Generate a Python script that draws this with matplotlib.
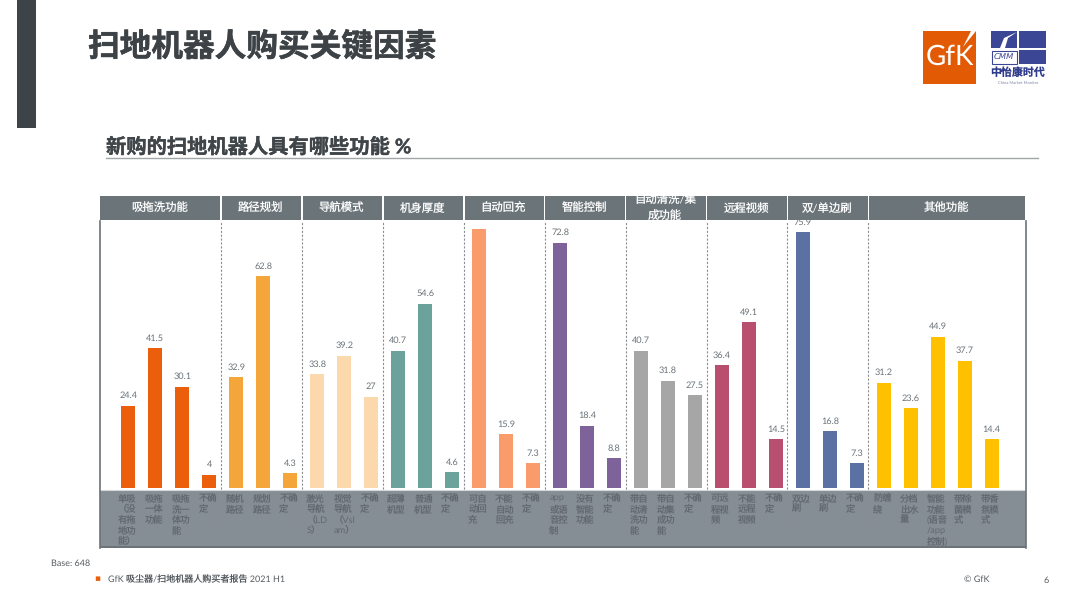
import matplotlib
matplotlib.use("Agg")
import matplotlib.pyplot as plt
import matplotlib.patheffects as pe
from matplotlib.patches import Rectangle, Polygon
from matplotlib.transforms import Bbox, blended_transform_factory

plt.rcParams['font.family'] = ['Lato', 'Noto Sans CJK SC', 'DejaVu Sans']
plt.rcParams['text.hinting'] = 'no_hinting'
CJK = ['Noto Sans CJK SC', 'DejaVu Sans']

# ---- data ----
group_names = ["吸拖洗功能", "路径规划", "导航模式", "机身厚度", "自动回充", "智能控制",
               "自动清洗/集\n成功能", "远程视频", "双/单边刷", "其他功能"]
group_colors = ["#EB5E0B", "#F4A63A", "#FBD9AC", "#6BA39C", "#F99B6B",
                "#7E639B", "#A6A6A6", "#B94F6E", "#5B70A3", "#FFC000"]
group_values = [
    [24.4, 41.5, 30.1, 4],
    [32.9, 62.8, 4.3],
    [33.8, 39.2, 27],
    [40.7, 54.6, 4.6],
    [76.9, 15.9, 7.3],
    [72.8, 18.4, 8.8],
    [40.7, 31.8, 27.5],
    [36.4, 49.1, 14.5],
    [75.9, 16.8, 7.3],
    [31.2, 23.6, 44.9, 37.7, 14.4],
]
group_labels = [
    ["单吸\n（没\n有拖\n地功\n能）", "吸拖\n一体\n功能", "吸拖\n洗一\n体功\n能", "不确\n定"],
    ["随机\n路径", "规划\n路径", "不确\n定"],
    ["激光\n导航\n（LD\nS）", "视觉\n导航\n（Vsl\nam）", "不确\n定"],
    ["超薄\n机型", "普通\n机型", "不确\n定"],
    ["可自\n动回\n充", "不能\n自动\n回充", "不确\n定"],
    ["app\n或语\n音控\n制", "没有\n智能\n功能", "不确\n定"],
    ["带自\n动清\n洗功\n能", "带自\n动集\n成功\n能", "不确\n定"],
    ["可远\n程视\n频", "不能\n远程\n视频", "不确\n定"],
    ["双边\n刷", "单边\n刷", "不确\n定"],
    ["防缠\n绕", "分档\n出水\n量", "智能\n功能\n(语音\n/app\n控制)", "带除\n菌模\n式", "带香\n氛模\n式"],
]
title = "扫地机器人购买关键因素"
subtitle = "新购的扫地机器人具有哪些功能 %"
unlabelled_values = [76.9]

W, H = 1080, 608
fig = plt.figure(figsize=(W / 100, H / 100), dpi=100, facecolor="white")

def px_axes(l, t, r, b, **kw):
    return fig.add_axes([l / W, 1 - b / H, (r - l) / W, (b - t) / H], **kw)

# ---- page furniture, in pixel coordinates ----
bg = fig.add_axes([0, 0, 1, 1], zorder=0)
bg.set_xlim(0, W); bg.set_ylim(H, 0); bg.axis("off")
bg.add_patch(Rectangle((17, 0), 19, 128, fc="#3D4347", ec="none"))
tt = bg.text(88, 47, title, fontsize=22.8, fontweight="bold", color="#3C4245", family=CJK, va="center")
tt.set_path_effects([pe.withStroke(linewidth=0.35, foreground="#3C4245")])
st = bg.text(106, 147, subtitle, fontsize=14.6, fontweight="bold", color="#3F4549", va="center")
st.set_path_effects([pe.withStroke(linewidth=0.25, foreground="#3F4549")])
bg.plot([106, 1038], [157.5, 157.5], color="#A3A6A8", lw=1)

bg.add_patch(Rectangle((923, 31), 53, 53, fc="#E35A05", ec="none"))
bg.text(949.5, 57, "GfK", fontsize=20, color="white", ha="center", va="center", fontweight="normal")
bg.add_patch(Polygon([[971, 31], [976, 31], [963, 47]], fc="white", ec="none"))

blue = "#3B4694"
bg.add_patch(Rectangle((991, 31), 26, 17, fc=blue, ec="none"))
bg.add_patch(Polygon([[1000, 48], [1004, 38], [1017, 32], [1008, 38], [1005, 48]], fc="white", ec="none"))
bg.add_patch(Rectangle((1019, 31), 27, 17, fc=blue, ec="none"))
bg.add_patch(Rectangle((991.5, 50.5), 25.5, 13, fc="white", ec=blue, lw=0.8))
bg.add_patch(Rectangle((1019, 50), 27, 14, fc=blue, ec="none"))
bg.text(1004, 58, "CMM", fontsize=6, color=blue, style="italic", ha="center", va="center", family="DejaVu Sans")
bg.text(1018, 73, "中怡康时代", fontsize=7.9, fontweight="bold", color="#2F3B8C", ha="center", va="center", family=CJK)
bg.text(1018, 82.5, "China Market Monitor", fontsize=3, color="#7F86A8", ha="center", va="center")

bg.text(51, 563, "Base: 648", fontsize=6.5, color="#555B60", va="center")
bg.text(97, 579, "▪", fontsize=6.5, color="#EB5E0B", ha="center", va="center", family="DejaVu Sans")
bg.text(108, 579, "GfK 吸尘器/扫地机器人购买者报告 2021 H1", fontsize=6.5, color="#555B60", va="center")
bg.text(964, 579, "© GfK", fontsize=6.5, color="#555B60", va="center")
bg.text(1046, 580, "6", fontsize=6.5, color="#555B60", ha="center", va="center")

# ---- chart ----
ax = px_axes(100, 221, 1026, 548, zorder=1)
ax.patch.set_alpha(0)
XMIN, XMAX = -1.05, 33.27
ax.set_xlim(XMIN, XMAX)
ax.set_ylim(-17.8, 79.2)
ax.set_xticks([]); ax.set_yticks([])
for s in ("top", "bottom"):
    ax.spines[s].set_visible(False)
for s in ("left", "right"):
    ax.spines[s].set_color("#6B7277"); ax.spines[s].set_linewidth(1.2)

ax.axhspan(-17.8, -0.8, color="#868E95", lw=0, zorder=0)
ax.axhline(-17.6, color="#676E74", lw=1.2, zorder=1)
ax.axhline(-0.7, color="#D5D8DA", lw=0.8, zorder=1)

trans = blended_transform_factory(ax.transData, ax.transAxes)
i = 0
edges = [XMIN]
for g, vals in enumerate(group_values):
    for j, v in enumerate(vals):
        ax.bar(i, v, width=0.53, color=group_colors[g], zorder=2)
        if v not in unlabelled_values:
            ax.text(i, v + 3.0, f"{v:g}", fontsize=6.6, color="#6A7278", ha="center", va="center",
                    zorder=3, clip_on=False)
        for k, line in enumerate(group_labels[g][j].split("\n")):
            ax.text(i - 0.40, -3.0 - 3.2 * k, line, fontsize=6.7, color="#62696F",
                    ha="left", va="center", zorder=3)
        i += 1
    edges.append(i - 0.57)
edges[-1] = XMAX

for e in edges[1:-1]:
    ax.plot([e, e], [-12, 79.2], color="#8A8F93", lw=0.8, ls=(0, (2, 1.5)), zorder=1.5)

fig.canvas.draw()
for g, name in enumerate(group_names):
    left, right = edges[g], edges[g + 1]
    x0 = ax.transData.transform((left, 0))[0] + (0 if g == 0 else 1)
    x1 = ax.transData.transform((right, 0))[0] - 1
    r = Rectangle((left + (0 if g == 0 else 0.03), 1.003), right - left - 0.05, 0.0745,
                  transform=trans, fc="#6A7479", ec="none", clip_on=False, zorder=5)
    ax.add_patch(r)
    t = ax.text((left + right) / 2 - 0.03, 1.04, name, transform=trans, fontsize=8.2, color="white",
                ha="center", va="center", zorder=6, linespacing=1.65)
    t.set_clip_on(True)
    t.set_clip_box(Bbox([[x0, H - 221], [x1, H - 195]]))

fig.savefig("out.png", dpi=100, facecolor="white")
